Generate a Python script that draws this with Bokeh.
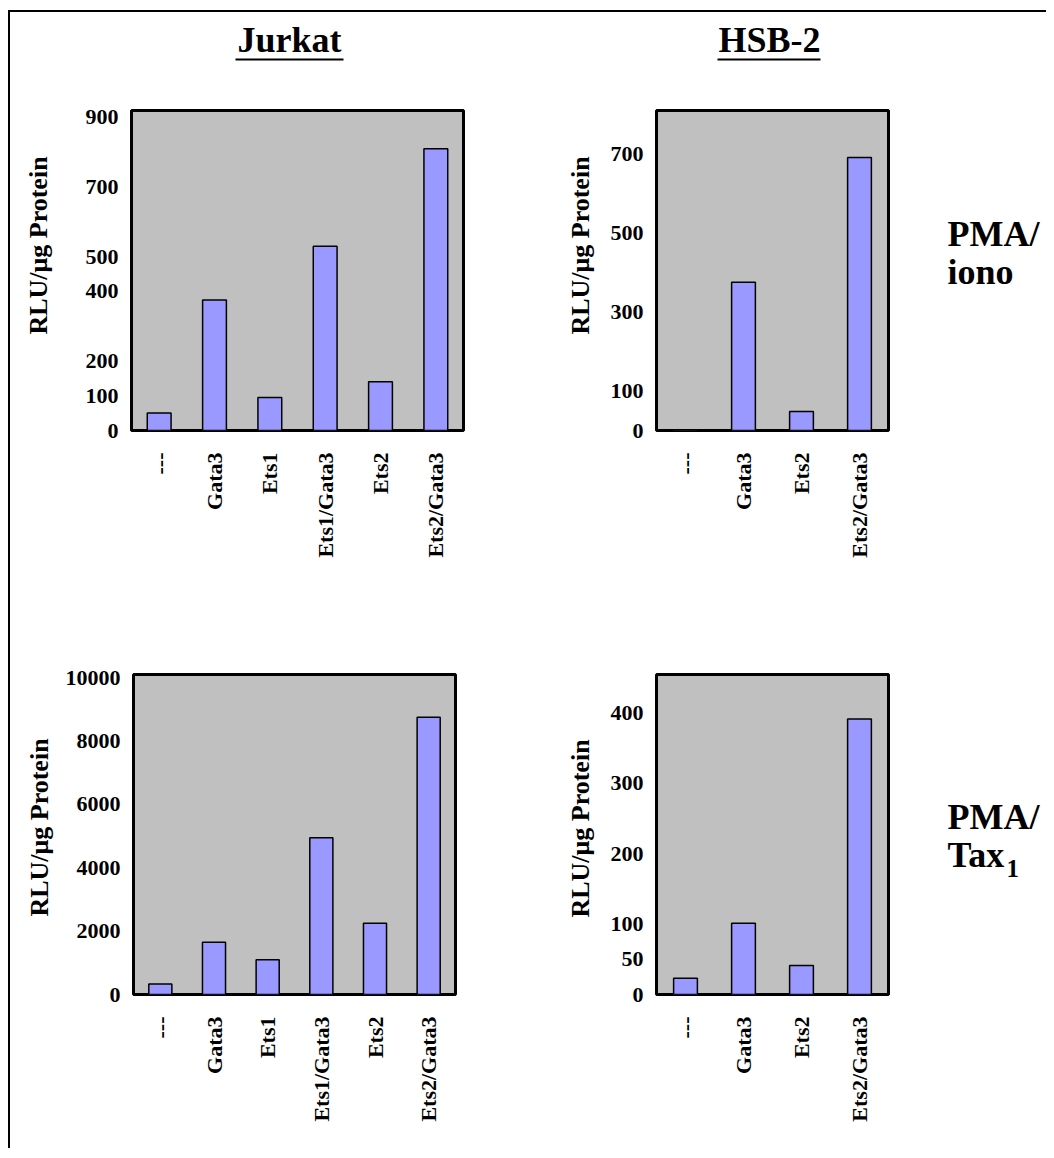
from math import pi
from bokeh.plotting import figure
from bokeh.models import FactorRange, Range1d, FixedTicker, ColumnDataSource
from bokeh.layouts import column, row
from bokeh.embed import file_html
from bokeh.resources import INLINE
from bokeh.core.properties import value

FONT = "Liberation Serif"

# ---- data ----
jurkat_cats = ["---", "Gata3", "Ets1", "Ets1/Gata3", "Ets2", "Ets2/Gata3"]
hsb_cats = ["---", "Gata3", "Ets2", "Ets2/Gata3"]

jurkat_iono = [50, 375, 95, 530, 140, 810]
hsb_iono = [2, 375, 48, 690]
jurkat_tax = [330, 1650, 1100, 4950, 2250, 8750]
hsb_tax = [23, 101, 41, 391]

jurkat_iono_ticks = [0, 100, 200, 400, 500, 700, 900]
hsb_iono_ticks = [0, 100, 300, 500, 700]
jurkat_tax_ticks = [0, 2000, 4000, 6000, 8000, 10000]
hsb_tax_ticks = [0, 50, 100, 200, 300, 400]

col_titles = ["Jurkat", "HSB-2"]
row_titles = [["PMA/", "iono"], ["PMA/", "Tax"]]
y_title = "RLU/\u03bcg Protein"

BAR_FILL = "#9999FF"
PANEL_BG = "#C0C0C0"
BASE_SHIFT = 0.34  # rendered baseline sits this many em below the anchor


class Strip:
    """Decoration-only figure; positions are given in page pixels."""

    def __init__(self, x0, x1, fy0, fy1, top, bottom):
        self.fy1 = fy1
        self.p = figure(width=x1 - x0, height=top + (fy1 - fy0) + bottom,
                        x_range=Range1d(x0, x1), y_range=Range1d(0, fy1 - fy0),
                        min_border_left=0, min_border_right=0,
                        min_border_top=top, min_border_bottom=bottom,
                        x_axis_location=None, y_axis_location=None,
                        output_backend="svg", toolbar_location=None, tools="")
        self.p.grid.visible = False
        self.p.outline_line_color = None
        self.p.background_fill_color = None
        self.p.border_fill_color = None

    def text(self, x, y, txt, size, align="left", vertical=False):
        # (x, y) is the desired baseline point in page pixels
        sh = BASE_SHIFT * size
        if vertical:
            x, angle = x - sh, pi / 2
        else:
            y, angle = y - sh, 0
        self.p.text(x=[x], y=[self.fy1 - y], text=[txt], angle=angle, text_align=align,
                    text_baseline="alphabetic", text_font=value(FONT),
                    text_font_style="bold", text_font_size=f"{size}px", text_color="black")

    def hline(self, x0, x1, y, w):
        self.p.segment(x0=[x0], x1=[x1], y0=[self.fy1 - y], y1=[self.fy1 - y],
                       line_width=w, line_color="black")


def panel(cats, vals, ticks, ymax, fw, fh, left, right, top, bottom, bar_w):
    p = figure(x_range=FactorRange(factors=cats), y_range=Range1d(0, ymax),
               width=left + fw + right, height=top + fh + bottom,
               min_border_left=left, min_border_right=right,
               min_border_top=top, min_border_bottom=bottom,
               output_backend="svg", toolbar_location=None, tools="")
    src = ColumnDataSource(dict(cat=cats, val=vals))
    p.vbar(x="cat", top="val", width=bar_w, source=src,
           fill_color=BAR_FILL, line_color="black", line_width=1.5)
    p.background_fill_color = PANEL_BG
    p.border_fill_color = None
    p.outline_line_color = "black"
    p.outline_line_width = 3
    p.grid.visible = False
    for ax in (p.xaxis[0], p.yaxis[0]):
        ax.axis_line_color = None
        ax.major_tick_line_color = None
        ax.minor_tick_line_color = None
        ax.major_tick_out = 0
        ax.major_tick_in = 0
        ax.minor_tick_out = 0
        ax.major_label_text_font = FONT
        ax.major_label_text_font_style = "bold"
        ax.major_label_text_font_size = "22px"
        ax.major_label_text_color = "black"
    p.yaxis.ticker = FixedTicker(ticks=ticks)
    p.yaxis.major_label_standoff = 13
    p.xaxis.major_label_orientation = pi / 2
    p.xaxis.major_label_standoff = 22
    return p


# header with underlined column titles
hdr = Strip(10, 1046, 12, 70, 0, 0)
hdr.text(289, 52, col_titles[0], 36, "center")
hdr.text(769, 52, col_titles[1], 36, "center")
hdr.hline(235, 343, 59, 2)
hdr.hline(717, 820, 59, 2)

# row 1: frames span page y 110..430
T1, B1 = 40, 210
sa = Strip(10, 60, 110, 430, T1, B1)
sa.text(47, 245, y_title, 26, "center", vertical=True)
a = panel(jurkat_cats, jurkat_iono, jurkat_iono_ticks, 920, 332, 320, 71, 97, T1, B1, 0.43)
sb = Strip(560, 605, 110, 430, T1, B1)
sb.text(589, 245, y_title, 26, "center", vertical=True)
b = panel(hsb_cats, hsb_iono, hsb_iono_ticks, 809, 232, 320, 51, 20, T1, B1, 0.41)
sc = Strip(908, 1046, 110, 430, T1, B1)
sc.text(947, 246, row_titles[0][0], 36)
sc.text(947, 284, row_titles[0][1], 36)

# row 2: frames span page y 674..994
T2, B2 = 34, 154
sd = Strip(10, 60, 674, 994, T2, B2)
sd.text(48, 827, y_title, 26, "center", vertical=True)
d = panel(jurkat_cats, jurkat_tax, jurkat_tax_ticks, 10100, 322, 320, 73, 105, T2, B2, 0.43)
se = Strip(560, 605, 674, 994, T2, B2)
se.text(589, 828, y_title, 26, "center", vertical=True)
e = panel(hsb_cats, hsb_tax, hsb_tax_ticks, 454, 232, 320, 51, 20, T2, B2, 0.41)
sf = Strip(908, 1046, 674, 994, T2, B2)
sf.text(947, 829, row_titles[1][0], 36)
sf.text(947, 867, row_titles[1][1], 36)
sf.text(1006, 876, "1", 25)

layout = column(hdr.p, row(sa.p, a, sb.p, b, sc.p), row(sd.p, d, se.p, e, sf.p),
                styles={"margin-left": "8px", "margin-top": "10px",
                        "border-top": "2px solid black", "border-left": "2px solid black"})

open("out.html", "w").write(file_html(layout, INLINE))
